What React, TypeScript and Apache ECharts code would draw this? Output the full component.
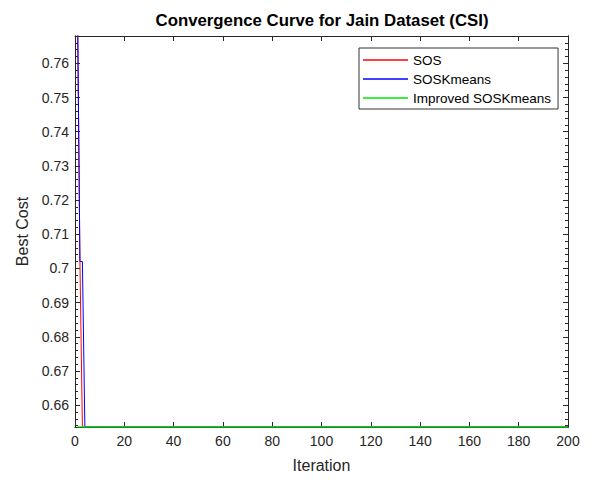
import React, { useEffect, useRef } from "react";
import * as echarts from "echarts";

// Best cost per iteration (points where the value changes, plus the final iteration)
const sosData: [number, number][] = [
  [1, 0.776],
  [2, 0.702],
  [3, 0.6536],
  [200, 0.6536],
];
const sosKmeansData: [number, number][] = [
  [1, 0.779],
  [2, 0.702],
  [3, 0.702],
  [4, 0.6536],
  [200, 0.6536],
];
const improvedSosKmeansData: [number, number][] = [
  [1, 0.6536],
  [200, 0.6536],
];

const seriesNames = ["SOS", "SOSKmeans", "Improved SOSKmeans"];
const seriesColors = ["#ff0000", "#0000ff", "#00e600"];

const yMin = 0.6536;
const yMax = 0.768;
const yTicks = [0.66, 0.67, 0.68, 0.69, 0.7, 0.71, 0.72, 0.73, 0.74, 0.75, 0.76];
const yMinorTicks: number[] = [];
for (let v = 0.654; v <= yMax + 1e-9; v += 0.002) {
  yMinorTicks.push(Math.round(v * 1000) / 1000);
}

const xMin = 0;
const xMax = 200;
const xInterval = 20;

const FONT = "'Liberation Sans', Arial, Helvetica, sans-serif";
const AXIS_COLOR = "#262626";

export default function App() {
  const ref = useRef<HTMLDivElement>(null);

  useEffect(() => {
    if (!ref.current) return;
    const chart = echarts.init(ref.current, undefined, { renderer: "svg" });

    const axisLine = { show: true, lineStyle: { color: AXIS_COLOR, width: 1 } };
    const grid = { left: 75, right: 28, top: 36, bottom: 53 };

    const yAxisBase = {
      type: "value" as const,
      min: yMin,
      max: yMax,
      splitLine: { show: false },
      axisLine,
    };

    chart.setOption({
      animation: false,
      backgroundColor: "#ffffff",
      textStyle: { fontFamily: FONT },
      grid,
      graphic: [
        {
          type: "text",
          x: 322,
          y: 20,
          style: {
            text: "Convergence Curve for Jain Dataset (CSI)",
            font: `bold 16.8px ${FONT}`,
            fill: "#000000",
            textAlign: "center",
            textVerticalAlign: "middle",
          },
        },
      ],
      legend: {
        orient: "vertical",
        left: 359,
        top: 48,
        data: seriesNames.map((n) => ({ name: n, icon: "rect" })),
        itemWidth: 45,
        itemHeight: 1.3,
        itemGap: 5,
        padding: [5, 7, 4, 4],
        backgroundColor: "#ffffff",
        borderColor: "#333333",
        borderWidth: 1,
        borderRadius: 0,
        textStyle: { fontSize: 13.5, color: "#000000", fontFamily: FONT, padding: [0, 0, 0, 0] },
      },
      xAxis: [
        {
          type: "value",
          min: xMin,
          max: xMax,
          interval: xInterval,
          position: "bottom",
          name: "Iteration",
          nameLocation: "middle",
          nameGap: 30,
          nameTextStyle: { fontSize: 16, color: AXIS_COLOR },
          axisLine,
          axisTick: { show: true, inside: true, length: 5, lineStyle: { color: AXIS_COLOR } },
          axisLabel: { fontSize: 14, color: AXIS_COLOR, margin: 7 },
          splitLine: { show: false },
        },
        {
          type: "value",
          min: xMin,
          max: xMax,
          interval: xInterval,
          position: "top",
          axisLine,
          axisTick: { show: true, inside: true, length: 5, lineStyle: { color: AXIS_COLOR } },
          axisLabel: { show: false },
          splitLine: { show: false },
        },
      ],
      yAxis: [
        {
          ...yAxisBase,
          position: "left",
          name: "Best Cost",
          nameLocation: "middle",
          nameGap: 42,
          nameTextStyle: { fontSize: 16, color: AXIS_COLOR },
          axisTick: {
            show: true,
            inside: true,
            length: 5,
            customValues: yTicks,
            lineStyle: { color: AXIS_COLOR },
          },
          axisLabel: {
            fontSize: 14,
            color: AXIS_COLOR,
            margin: 6,
            customValues: yTicks,
            formatter: (v: number) => String(Math.round(v * 100) / 100),
          },
        },
        {
          ...yAxisBase,
          position: "left",
          axisTick: {
            show: true,
            inside: true,
            length: 3,
            customValues: yMinorTicks,
            lineStyle: { color: AXIS_COLOR },
          },
          axisLabel: { show: false },
        },
        {
          ...yAxisBase,
          position: "right",
          axisTick: {
            show: true,
            inside: true,
            length: 5,
            customValues: yTicks,
            lineStyle: { color: AXIS_COLOR },
          },
          axisLabel: { show: false },
        },
        {
          ...yAxisBase,
          position: "right",
          axisTick: {
            show: true,
            inside: true,
            length: 3,
            customValues: yMinorTicks,
            lineStyle: { color: AXIS_COLOR },
          },
          axisLabel: { show: false },
        },
      ],
      series: [
        {
          name: seriesNames[0],
          type: "line",
          data: sosData,
          color: seriesColors[0],
          showSymbol: false,
          lineStyle: { width: 1, color: seriesColors[0] },
          z: 3,
        },
        {
          name: seriesNames[1],
          type: "line",
          data: sosKmeansData,
          color: seriesColors[1],
          showSymbol: false,
          lineStyle: { width: 1, color: seriesColors[1] },
          z: 4,
        },
        {
          name: seriesNames[2],
          type: "line",
          data: improvedSosKmeansData,
          color: seriesColors[2],
          showSymbol: false,
          lineStyle: { width: 1.5, color: seriesColors[2] },
          z: 5,
        },
      ],
    });

    return () => chart.dispose();
  }, []);

  return (
    <div
      ref={ref}
      style={{ position: "fixed", left: 0, top: 0, width: 596, height: 480, background: "#fff" }}
    />
  );
}
